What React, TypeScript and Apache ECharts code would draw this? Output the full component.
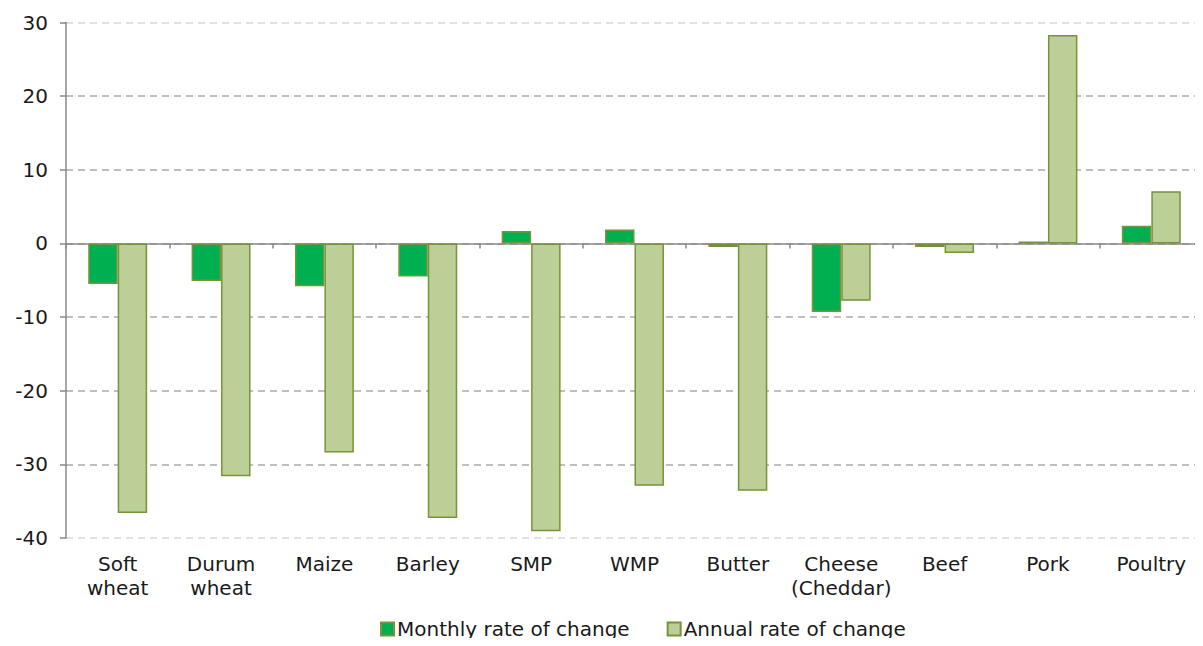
import React, { useEffect, useRef } from "react";
import * as echarts from "echarts";

const categories = [
  "Soft\nwheat",
  "Durum\nwheat",
  "Maize",
  "Barley",
  "SMP",
  "WMP",
  "Butter",
  "Cheese\n(Cheddar)",
  "Beef",
  "Pork",
  "Poultry",
];
const monthly = [-5.5, -5.1, -5.8, -4.5, 1.7, 1.9, -0.5, -9.3, -0.5, 0.25, 2.4];
const annual = [-36.6, -31.6, -28.4, -37.3, -39.1, -32.9, -33.6, -7.8, -1.3, 28.3, 7.1];
const yTicks = { min: -40, max: 30, interval: 10 };

const FONT = "DejaVu Sans, Verdana, sans-serif";

export default function App() {
  const ref = useRef<HTMLDivElement>(null);
  useEffect(() => {
    if (!ref.current) return;
    const chart = echarts.init(ref.current, undefined, { renderer: "svg" });
    const border = "#77933C";
    chart.setOption({
      animation: false,
      textStyle: { fontFamily: FONT },
      grid: { left: 66, right: -10, top: 22.5, bottom: 108, containLabel: false },
      legend: {
        left: 375,
        top: 614,
        itemWidth: 13,
        itemHeight: 13,
        itemGap: 37,
        icon: "rect",
        textStyle: { fontFamily: FONT, fontSize: 20, color: "#1a1a1a", padding: [0, 0, 0, -2] },
        data: ["Monthly rate of change", "Annual rate of change"],
      },
      xAxis: [
        {
          type: "category",
          data: categories,
          position: "bottom",
          axisLine: { show: false, onZero: false },
          axisTick: { show: false },
          axisLabel: {
            fontFamily: FONT,
            fontSize: 20,
            color: "#1a1a1a",
            margin: 14,
            lineHeight: 24,
            interval: 0,
          },
        },
        {
          type: "category",
          data: categories,
          position: "bottom",
          axisLine: { show: true, onZero: true, lineStyle: { color: "#888888", width: 1.5 } },
          axisTick: { show: true, length: 5, lineStyle: { color: "#888888", width: 1.5 } },
          axisLabel: { show: false },
        },
      ],
      yAxis: {
        type: "value",
        min: yTicks.min,
        max: yTicks.max,
        interval: yTicks.interval,
        axisLine: { show: true, lineStyle: { color: "#888888", width: 1.5 } },
        axisTick: { show: true, length: 6, lineStyle: { color: "#888888", width: 1.5 } },
        axisLabel: { fontFamily: FONT, fontSize: 20, color: "#1a1a1a", margin: 18 },
        splitLine: {
          show: true,
          lineStyle: {
            type: [7, 5],
            width: 1.5,
            color: ["#D9D9D9", "#AAAAAA", "#AAAAAA", "#AAAAAA", "#AAAAAA", "#AAAAAA", "#AAAAAA", "#D9D9D9"],
          },
        },
      },
      series: [
        {
          name: "Monthly rate of change",
          type: "bar",
          data: monthly,
          xAxisIndex: 0,
          barGap: "0%",
          barCategoryGap: "43%",
          itemStyle: { color: "#00B050", borderColor: border, borderWidth: 1.5 },
        },
        {
          name: "Annual rate of change",
          type: "bar",
          data: annual,
          xAxisIndex: 0,
          barGap: "0%",
          barCategoryGap: "43%",
          itemStyle: { color: "#BBCF96", borderColor: border, borderWidth: 1.5 },
        },
      ],
    });
    return () => chart.dispose();
  }, []);
  return <div ref={ref} style={{ width: 1203, height: 646, margin: -8 }} />;
}
